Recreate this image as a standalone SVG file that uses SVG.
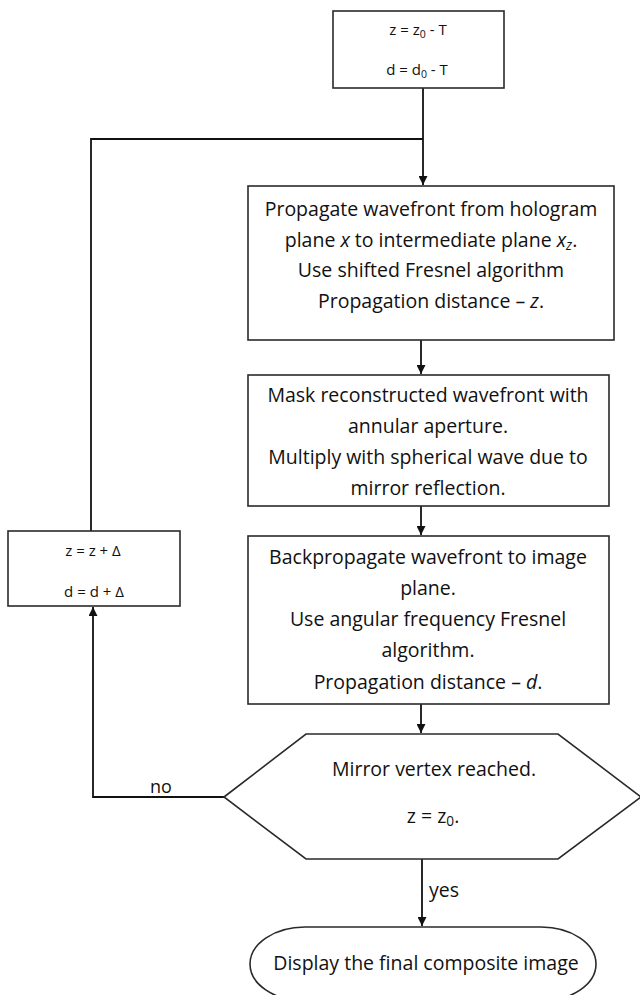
<svg xmlns="http://www.w3.org/2000/svg" width="640" height="995" viewBox="0 0 640 995">
<defs>
<marker id="arr" viewBox="0 0 10 10" refX="10" refY="5" markerWidth="9" markerHeight="9" markerUnits="userSpaceOnUse" orient="auto">
<path d="M0,0 L10,5 L0,10 Z" fill="#111"/>
</marker>
<style>
.box{fill:#fff;stroke:#2a2a2a;stroke-width:1.6}
.ln{fill:none;stroke:#111;stroke-width:1.8}
.t{font-family:"Open Sans","Liberation Sans",sans-serif;font-size:19.5px;fill:#111;text-anchor:middle}
.s{font-family:"Open Sans","Liberation Sans",sans-serif;font-size:15px;fill:#111;text-anchor:middle}
.sub{font-size:70%}
</style>
</defs>
<rect width="640" height="995" fill="#fff"/>
<g id="connectors">
<path class="ln" d="M423,88 V185" marker-end="url(#arr)"/>
<path class="ln" d="M91,531 V139 H423"/>
<path class="ln" d="M421,340 V374" marker-end="url(#arr)"/>
<path class="ln" d="M421,506 V535" marker-end="url(#arr)"/>
<path class="ln" d="M421,704 V733" marker-end="url(#arr)"/>
<path class="ln" d="M422,859 V926" marker-end="url(#arr)"/>
<path class="ln" d="M224,797 H93 V607" marker-end="url(#arr)"/>
<text class="t" x="161" y="793" style="font-size:18px">no</text>
<text class="t" x="444" y="897">yes</text>
</g>
<g id="init">
<rect class="box" x="333" y="11" width="171" height="77"/>
<text class="s" x="418" y="35">z = z<tspan class="sub" dy="3">0</tspan><tspan dy="-3"> - T</tspan></text>
<text class="s" x="417" y="75">d = d<tspan class="sub" dy="3">0</tspan><tspan dy="-3"> - T</tspan></text>
</g>
<g id="propagate">
<rect class="box" x="248" y="186" width="366" height="154"/>
<text class="t" x="431" y="216">Propagate wavefront from hologram</text>
<text class="t" x="431" y="247">plane <tspan font-style="italic">x</tspan> to intermediate plane <tspan font-style="italic">x</tspan><tspan font-style="italic" class="sub" dy="3">z</tspan><tspan dy="-3">.</tspan></text>
<text class="t" x="431" y="277">Use shifted Fresnel algorithm</text>
<text class="t" x="431" y="308">Propagation distance – <tspan font-style="italic">z</tspan>.</text>
</g>
<g id="mask">
<rect class="box" x="248" y="375" width="361" height="131"/>
<text class="t" x="428" y="402">Mask reconstructed wavefront with</text>
<text class="t" x="428" y="433">annular aperture.</text>
<text class="t" x="428" y="464">Multiply with spherical wave due to</text>
<text class="t" x="428" y="495">mirror reflection.</text>
</g>
<g id="backprop">
<rect class="box" x="248" y="536" width="361" height="168"/>
<text class="t" x="428" y="564">Backpropagate wavefront to image</text>
<text class="t" x="428" y="595">plane.</text>
<text class="t" x="428" y="626">Use angular frequency Fresnel</text>
<text class="t" x="428" y="657">algorithm.</text>
<text class="t" x="428" y="689">Propagation distance – <tspan font-style="italic">d</tspan>.</text>
</g>
<g id="update">
<rect class="box" x="8" y="531" width="172" height="75"/>
<text class="s" x="93" y="556">z = z + Δ</text>
<text class="s" x="94" y="597">d = d + Δ</text>
</g>
<g id="decision">
<polygon class="box" points="224,797 306,734 558,734 641,797 558,859 306,859"/>
<text class="t" x="434" y="776">Mirror vertex reached.</text>
<text class="t" x="433" y="823">z = z<tspan class="sub" dy="3">0</tspan><tspan dy="-3">.</tspan></text>
</g>
<g id="display">
<rect class="box" x="250" y="927" width="346" height="74" rx="55" ry="37"/>
<text class="t" x="426" y="970">Display the final composite image</text>
</g>
</svg>
